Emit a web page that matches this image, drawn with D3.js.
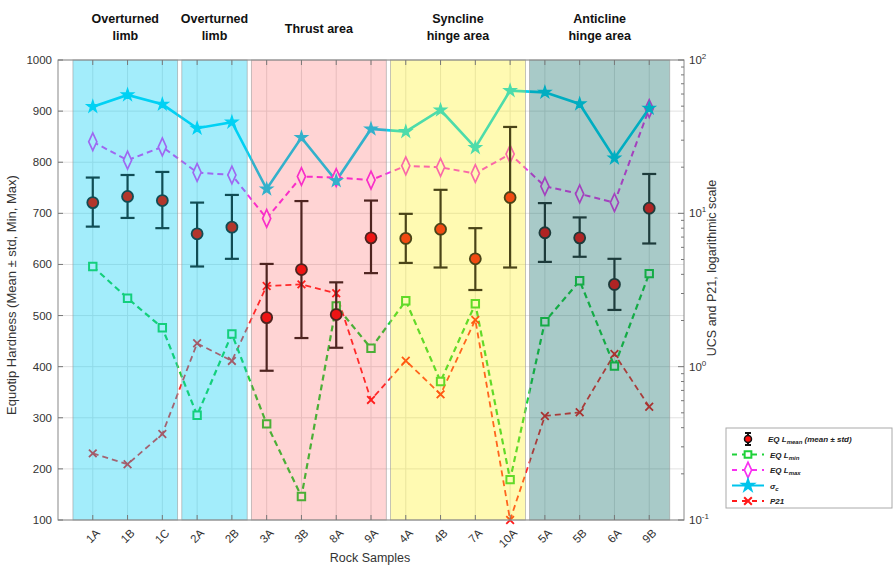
<!DOCTYPE html>
<html><head><meta charset="utf-8">
<script src="https://cdn.jsdelivr.net/npm/d3@7"></script>
<style>body{margin:0;background:#fff;}svg{font-family:"Liberation Sans",Arial,sans-serif;}</style>
</head><body><svg id="c" width="895" height="568"></svg>
<script>
const samples = ["1A","1B","1C","2A","2B","3A","3B","8A","9A","4A","4B","7A","10A","5A","5B","6A","9B"];
const eqMean = [721,733,725,660,673,496,590,502,652,651,669,611,731,662,652,561,710];
const eqUpper = [770,775,781,721,736,601,724,565,725,699,746,671,869,720,692,611,777];
const eqLower = [674,691,671,596,611,392,456,437,583,603,594,550,594,605,615,511,641];
const eqMin = [596,534,476,305,464,288,146,519,436,529,371,523,179,488,568,401,582];
const eqMax = [840,804,830,780,775,690,772,770,765,793,790,778,816,753,738,721,905];
const ucs = [49.6,59.2,51.4,35.9,39.3,14.4,31.2,16.3,35.5,34.1,47.2,26.8,63.1,61.5,51.7,22.9,48.4];
const p21 = [0.272,0.231,0.364,1.42,1.09,3.36,3.44,3.01,0.607,1.094,0.66,2.02,0.1,0.477,0.504,1.21,0.548];
const zoneNames = [["Overturned","limb"],["Overturned","limb"],["Thrust area"],["Syncline","hinge area"],["Anticline","hinge area"]];
const zoneFirst = [0,3,5,9,13];
const zoneLast = [2,4,8,12,16];
const zoneColors = ["rgb(0,205,245)","rgb(0,205,245)","rgb(255,40,40)","rgb(255,240,0)","rgb(0,100,95)"];
const zoneAlpha = [0.36,0.36,0.2,0.3,0.34];
const zoneMeanFill = ["#b3362c","#b3362c","#ee1414","#f24a12","#b02424"];
const zoneBarColor = ["#104d55","#104d55","#4e2420","#4a4418","#1d3b3b"];
const leftTicks = [100,200,300,400,500,600,700,800,900,1000];
const rightTicks = [0.1,1,10,100];
const rightTickExp = ["-1","0","1","2"];

const svg = d3.select("#c");
const L=58,R=684,T=60,B=520;
const x = d3.scaleLinear().domain([0,samples.length+1]).range([L,R]);
const yL = d3.scaleLinear().domain([100,1000]).range([B,T]);
const yR = d3.scaleLog().domain([0.1,100]).range([B,T]);
const xi = i=>x(i+1);
const zoneOf = i=>zoneFirst.findIndex((f,k)=>i>=f && i<=zoneLast[k]);

// grid
const g = svg.append("g");
g.selectAll(".hg").data(leftTicks).join("line").attr("x1",L).attr("x2",R).attr("y1",d=>yL(d)).attr("y2",d=>yL(d)).attr("stroke","#e2e2e2").attr("stroke-width",1);
g.selectAll(".vg").data(samples).join("line").attr("x1",(d,i)=>xi(i)).attr("x2",(d,i)=>xi(i)).attr("y1",T).attr("y2",B).attr("stroke","#e2e2e2").attr("stroke-width",1);

// lines
const lineL = d3.line().x((d,i)=>xi(i)).y(d=>yL(d));
const lineR = d3.line().x((d,i)=>xi(i)).y(d=>yR(d));
svg.append("path").attr("d",lineR(p21)).attr("fill","none").attr("stroke","#ff2a2a").attr("stroke-width",1.8).attr("stroke-dasharray","6,4");
svg.append("path").attr("d",lineL(eqMin)).attr("fill","none").attr("stroke","#1fd13a").attr("stroke-width",2.2).attr("stroke-dasharray","6,4");
svg.append("path").attr("d",lineL(eqMax)).attr("fill","none").attr("stroke","#f830f0").attr("stroke-width",2).attr("stroke-dasharray","6,4");
svg.append("path").attr("d",lineR(ucs)).attr("fill","none").attr("stroke","#00d4f4").attr("stroke-width",2.6);

// markers
const star = d3.symbol().type(d3.symbolStar).size(46);
const sq = d3.symbol().type(d3.symbolSquare).size(55);
const dia = d3.symbol().type(d3.symbolDiamond).size(90);
const cross = d3.symbol().type(d3.symbolX).size(40);
svg.selectAll(".px").data(p21).join("path").attr("d",cross).attr("transform",(d,i)=>`translate(${xi(i)},${yR(d)})`).attr("fill","none").attr("stroke","#ff1a1a").attr("stroke-width",1.8);
svg.selectAll(".sq").data(eqMin).join("path").attr("d",sq).attr("transform",(d,i)=>`translate(${xi(i)},${yL(d)})`).attr("fill","#fff").attr("stroke","#1fd13a").attr("stroke-width",2);
svg.selectAll(".dm").data(eqMax).join("path").attr("d",dia).attr("transform",(d,i)=>`translate(${xi(i)},${yL(d)}) scale(0.8,1)`).attr("fill","#fff").attr("stroke","#f830f0").attr("stroke-width",2);
svg.selectAll(".st").data(ucs).join("path").attr("d",star).attr("transform",(d,i)=>`translate(${xi(i)},${yR(d)})`).attr("fill","#00d4f4").attr("stroke","#00d4f4").attr("stroke-width",1.2);

// zone overlays
const gap=0.06;
const zoneEdges = zoneFirst.map((f,k)=>{
  const lo = k===0 ? f+1-0.57 : (zoneLast[k-1]+1+f+1)/2+gap;
  const hi = k===zoneFirst.length-1 ? zoneLast[k]+1+0.59 : (zoneLast[k]+1+zoneFirst[k+1]+1)/2-gap;
  return [lo,hi];
});
zoneEdges.forEach((e,k)=>{
  svg.append("rect").attr("x",x(e[0])).attr("y",T).attr("width",x(e[1])-x(e[0])).attr("height",B-T)
    .attr("fill",zoneColors[k]).attr("fill-opacity",zoneAlpha[k]).attr("stroke","#9a9a9a").attr("stroke-width",0.8).attr("stroke-opacity",0.7);
  const cx=(x(e[0])+x(e[1]))/2;
  const t=svg.append("text").attr("text-anchor","middle").attr("font-weight","bold").attr("font-size",12.5).attr("fill","#111");
  const lines=zoneNames[k];
  lines.forEach((ln,j)=>{
    t.append("tspan").attr("x",cx).attr("y",(lines.length===1?33:23)+j*17).text(ln);
  });
});

// error bars + means (on top, tinted per zone)
const eb = svg.append("g").attr("stroke-width",2.2);
samples.forEach((s,i)=>{
  const cx=xi(i), c=zoneBarColor[zoneOf(i)];
  eb.append("line").attr("stroke",c).attr("x1",cx).attr("x2",cx).attr("y1",yL(eqUpper[i])).attr("y2",yL(eqLower[i]));
  eb.append("line").attr("stroke",c).attr("x1",cx-7).attr("x2",cx+7).attr("y1",yL(eqUpper[i])).attr("y2",yL(eqUpper[i]));
  eb.append("line").attr("stroke",c).attr("x1",cx-7).attr("x2",cx+7).attr("y1",yL(eqLower[i])).attr("y2",yL(eqLower[i]));
});
svg.selectAll(".mn").data(eqMean).join("circle").attr("cx",(d,i)=>xi(i)).attr("cy",d=>yL(d)).attr("r",5.5)
  .attr("fill",(d,i)=>zoneMeanFill[zoneOf(i)]).attr("stroke",(d,i)=>zoneBarColor[zoneOf(i)]).attr("stroke-width",1.8);

// frame
svg.append("rect").attr("x",L).attr("y",T).attr("width",R-L).attr("height",B-T).attr("fill","none").attr("stroke","#888").attr("stroke-width",1);

// left ticks
const ax = svg.append("g").attr("fill","#333").attr("font-size",11.5);
leftTicks.forEach(v=>{
  svg.append("line").attr("x1",L).attr("x2",L+5).attr("y1",yL(v)).attr("y2",yL(v)).attr("stroke","#777");
  ax.append("text").attr("x",L-6).attr("y",yL(v)).attr("dy","0.35em").attr("text-anchor","end").text(v);
});
// bottom & top ticks
samples.forEach((s,i)=>{
  svg.append("line").attr("x1",xi(i)).attr("x2",xi(i)).attr("y1",B).attr("y2",B-5).attr("stroke","#777");
  svg.append("line").attr("x1",xi(i)).attr("x2",xi(i)).attr("y1",T).attr("y2",T+5).attr("stroke","#777");
  ax.append("text").attr("text-anchor","end").attr("transform",`translate(${xi(i)+5},${B+11}) rotate(-45)`).attr("dy","0.35em").text(s);
});
// right log ticks
for(let dec=-1;dec<2;dec++){
  for(let m=2;m<10;m++){
    const v=m*Math.pow(10,dec);
    svg.append("line").attr("x1",R).attr("x2",R-3).attr("y1",yR(v)).attr("y2",yR(v)).attr("stroke","#777");
  }
}
rightTicks.forEach((v,k)=>{
  svg.append("line").attr("x1",R).attr("x2",R-6).attr("y1",yR(v)).attr("y2",yR(v)).attr("stroke","#777");
  const t=ax.append("text").attr("x",R+5).attr("y",yR(v)+4);
  t.append("tspan").text("10");
  t.append("tspan").attr("dy",-5).attr("font-size",8).text(rightTickExp[k]);
});

// axis titles
svg.append("text").attr("transform",`translate(16,295) rotate(-90)`).attr("text-anchor","middle").attr("font-size",13).attr("fill","#333").text("Equotip Hardness (Mean ± std, Min, Max)");
svg.append("text").attr("transform",`translate(716,268) rotate(-90)`).attr("text-anchor","middle").attr("font-size",12.5).attr("fill","#333").text("UCS and P21, logarithmic scale");
svg.append("text").attr("x",370).attr("y",562).attr("text-anchor","middle").attr("font-size",12.5).attr("fill","#333").text("Rock Samples");

// legend
const lg = svg.append("g").attr("transform","translate(726,428)");
lg.append("rect").attr("width",166).attr("height",80).attr("fill","#fff").attr("stroke","#aaa").attr("stroke-width",1);
const starL = d3.symbol().type(d3.symbolStar).size(40);
const sqL = d3.symbol().type(d3.symbolSquare).size(45);
const diaL = d3.symbol().type(d3.symbolDiamond).size(70);
const items=[
  {t:"mean",label:"EQ L",sub:"mean",extra:" (mean ± std)"},
  {t:"min",label:"EQ L",sub:"min"},
  {t:"max",label:"EQ L",sub:"max"},
  {t:"ucs",label:"σ",sub:"c"},
  {t:"p21",label:"P21"}
];
items.forEach((it,k)=>{
  const yy=11+k*15.5, cx=22;
  const row=lg.append("g");
  if(it.t==="mean"){
    row.append("line").attr("x1",cx).attr("x2",cx).attr("y1",yy-6).attr("y2",yy+6).attr("stroke","#111").attr("stroke-width",2);
    row.append("line").attr("x1",cx-3).attr("x2",cx+3).attr("y1",yy-6).attr("y2",yy-6).attr("stroke","#111").attr("stroke-width",2);
    row.append("line").attr("x1",cx-3).attr("x2",cx+3).attr("y1",yy+6).attr("y2",yy+6).attr("stroke","#111").attr("stroke-width",2);
    row.append("circle").attr("cx",cx).attr("cy",yy).attr("r",3.5).attr("fill","#ff1010").attr("stroke","#111").attr("stroke-width",1.5);
  } else {
    const col={min:"#1fd13a",max:"#f830f0",ucs:"#00c4ec",p21:"#ff1a1a"}[it.t];
    row.append("line").attr("x1",6).attr("x2",38).attr("y1",yy).attr("y2",yy).attr("stroke",col).attr("stroke-width",2).attr("stroke-dasharray",it.t==="ucs"?null:"5,5");
    const sym={min:sqL,max:diaL,ucs:starL,p21:cross}[it.t];
    row.append("path").attr("d",sym).attr("transform",`translate(${cx},${yy})${it.t==="max"?" scale(0.8,1)":""}`)
      .attr("fill",it.t==="ucs"?col:(it.t==="p21"?"none":"#fff")).attr("stroke",col).attr("stroke-width",2);
  }
  const tx=row.append("text").attr("x",it.t==="mean"?42:44).attr("y",yy+3).attr("font-size",8).attr("font-style","italic").attr("font-weight","bold").attr("fill","#222");
  tx.append("tspan").text(it.label);
  if(it.sub) tx.append("tspan").attr("dy",2).attr("font-size",6).text(it.sub);
  if(it.extra) tx.append("tspan").attr("dy",-2).text(it.extra);
});
</script></body></html>
